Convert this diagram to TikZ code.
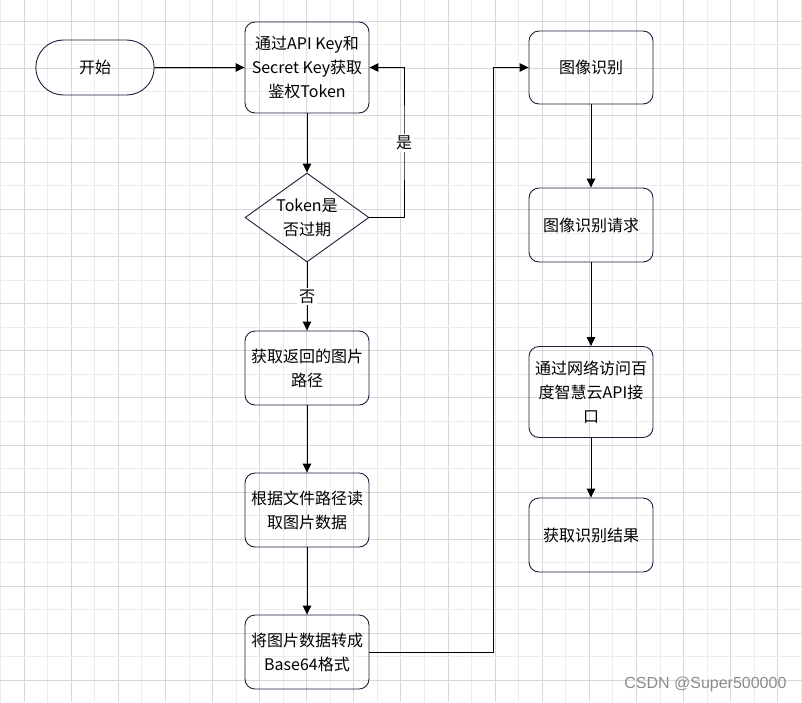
\documentclass[tikz,border=0pt]{standalone}
\usepackage{fontspec}
\setmainfont{Noto Sans CJK SC}
\newfontfamily\wmfont{Liberation Sans}
\usetikzlibrary{shapes.geometric,shapes.misc,arrows.meta}
\definecolor{edge}{RGB}{30,30,62}
\definecolor{gridlo}{RGB}{236,236,236}
\definecolor{gridhi}{RGB}{216,216,216}
\definecolor{wmgray}{RGB}{140,140,140}
\begin{document}
\begin{tikzpicture}[x=1pt,y=-1pt,
    txt/.style={font=\fontsize{16}{24}\selectfont},
    box/.style={txt,draw=edge,line width=.9pt,rounded corners=10pt,minimum width=124pt,minimum height=74pt,align=center},
    term/.style={txt,draw=edge,line width=.9pt,rounded rectangle,minimum width=125pt,minimum height=55pt},
    decide/.style={draw=edge,line width=.9pt,diamond,minimum width=124pt,minimum height=89pt,inner sep=0pt},
    arr/.style={line width=1pt,-{Triangle[length=9pt,width=8.5pt]}},
    lbl/.style={txt,fill=white,inner sep=2pt}]
  \clip (0,0) rectangle (802,702);
  \fill[white] (0,0) rectangle (802,702);
  \foreach \k in {0,...,17} {
    \draw[gridlo,line width=.8pt] ({0.5+47.1*\k},0) -- ++(0,702);
    \draw[gridhi,line width=.8pt] ({24.05+47.1*\k},0) -- ++(0,702);
  }
  \foreach \k in {0,...,14} {
    \draw[gridhi,line width=.8pt] (0,{21+47.1*\k}) -- ++(802,0);
    \draw[gridlo,line width=.8pt] (0,{44.55+47.1*\k}) -- ++(802,0);
  }

  \node[term] (start) at (95,67.5) {开始};
  \node[box,minimum height=91pt] (tok) at (307,67.5) {通过API Key和\\Secret Key获取\\鉴权Token};
  \node[decide,label={[txt,align=center]center:Token是\\否过期}] (chk) at (307,217.5) {};
  \node[box] (path) at (307,368) {获取返回的图片\\路径};
  \node[box] (read) at (307,510) {根据文件路径读\\取图片数据};
  \node[box] (b64) at (307,652) {将图片数据转成\\Base64格式};
  \node[box,minimum height=73pt] (rec) at (591,67.5) {图像识别};
  \node[box] (req) at (591,225) {图像识别请求};
  \node[box,minimum height=91pt] (api) at (591,392) {通过网络访问百\\度智慧云API接\\口};
  \node[box] (res) at (591,535) {获取识别结果};
  \coordinate (yes) at (404,143);
  \coordinate (up) at (493,67.5);

  \draw[arr] (start) -- (tok);
  \draw[arr] (tok) -- (chk);
  \draw[arr] (chk.east) -| (yes) node[lbl] {是} |- (tok.east);
  \draw[arr] (chk) -- node[lbl] {否} (path);
  \draw[arr] (path) -- (read);
  \draw[arr] (read) -- (b64);
  \draw[arr] (b64.east) -| (up) -- (rec.west);
  \draw[arr] (rec) -- (req);
  \draw[arr] (req) -- (api);
  \draw[arr] (api) -- (res);

  \node[font=\wmfont\fontsize{16}{18}\selectfont,text=wmgray,anchor=east] (wm) at (790,684) {CSDN @Super500000};
\end{tikzpicture}
\end{document}
